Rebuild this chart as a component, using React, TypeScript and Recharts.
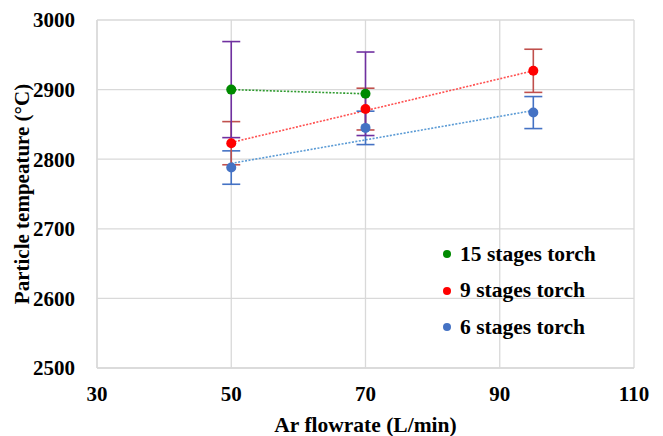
import {
  ComposedChart,
  Scatter,
  Line,
  XAxis,
  YAxis,
  CartesianGrid,
  ErrorBar,
} from "recharts";

// Ar flowrate (L/min) vs particle temperature (°C)
const torch15 = [
  { x: 50, y: 2900, err: 69 },
  { x: 70, y: 2894, err: 60 },
];
const torch9 = [
  { x: 50, y: 2823, err: 31 },
  { x: 70, y: 2872, err: 30 },
  { x: 95, y: 2927, err: 31 },
];
const torch6 = [
  { x: 50, y: 2788, err: 24 },
  { x: 70, y: 2845, err: 24 },
  { x: 95, y: 2867, err: 23 },
];

// linear trendlines, end points
const trend15 = [
  { x: 50, y: 2900 },
  { x: 70, y: 2894 },
];
const trend9 = [
  { x: 50, y: 2824 },
  { x: 95, y: 2927 },
];
const trend6 = [
  { x: 50, y: 2794 },
  { x: 95, y: 2870 },
];

const xTicks = [30, 50, 70, 90, 110];
const yTicks = [2500, 2600, 2700, 2800, 2900, 3000];

const legendItems = [
  { name: "15 stages torch", color: "#008a00" },
  { name: "9 stages torch", color: "#ff0000" },
  { name: "6 stages torch", color: "#4472c4" },
];

const FONT = "'Times New Roman', 'Liberation Serif', serif";

const Dot = (color: string) => (props: any) => {
  const { cx, cy } = props;
  if (cx == null || cy == null) return <g />;
  return <circle cx={cx} cy={cy} r={5} fill={color} />;
};

const App = () => {
  return (
    <div style={{ position: "absolute", left: 0, top: 0, background: "#fff" }}>
      <ComposedChart
        width={663}
        height={436}
        margin={{ top: 20, right: 29, left: 0, bottom: 0 }}
      >
        <CartesianGrid stroke="#d9d9d9" strokeWidth={1.3} />
        <XAxis
          type="number"
          dataKey="x"
          domain={[30, 110]}
          ticks={xTicks}
          allowDataOverflow
          axisLine={{ stroke: "#d9d9d9", strokeWidth: 1.3 }}
          tickLine={false}
          height={68}
          tick={{ fill: "#000", fontSize: 21, fontWeight: "bold", fontFamily: FONT }}
          tickMargin={12}
          label={{
            value: "Ar flowrate (L/min)",
            position: "insideBottom",
            offset: 4,
            fill: "#000",
            fontSize: 21.5,
            fontWeight: "bold",
            fontFamily: FONT,
          }}
        />
        <YAxis
          type="number"
          domain={[2500, 3000]}
          ticks={yTicks}
          allowDataOverflow
          axisLine={{ stroke: "#d9d9d9", strokeWidth: 1.3 }}
          tickLine={false}
          width={97}
          tick={{ fill: "#000", fontSize: 21, fontWeight: "bold", fontFamily: FONT }}
          tickMargin={16}
          label={{
            value: "Particle tempeature (°C)",
            angle: -90,
            position: "insideLeft",
            offset: 22,
            style: { textAnchor: "middle" },
            fill: "#000",
            fontSize: 21,
            fontWeight: "bold",
            fontFamily: FONT,
          }}
        />

        <Line
          data={trend6}
          dataKey="y"
          stroke="#5b9bd5"
          strokeWidth={1.6}
          strokeDasharray="2 1.5"
          dot={false}
          activeDot={false}
          isAnimationActive={false}
        />
        <Line
          data={trend9}
          dataKey="y"
          stroke="#ff5050"
          strokeWidth={1.6}
          strokeDasharray="2 1.5"
          dot={false}
          activeDot={false}
          isAnimationActive={false}
        />
        <Line
          data={trend15}
          dataKey="y"
          stroke="#2e9a2e"
          strokeWidth={1.6}
          strokeDasharray="2 1.5"
          dot={false}
          activeDot={false}
          isAnimationActive={false}
        />

        <Scatter data={torch6} dataKey="y" shape={Dot("#4472c4")} isAnimationActive={false}>
          <ErrorBar dataKey="err" direction="y" stroke="#4472c4" strokeWidth={1.6} width={9} />
        </Scatter>
        <Scatter data={torch9} dataKey="y" shape={Dot("#ff0000")} isAnimationActive={false}>
          <ErrorBar dataKey="err" direction="y" stroke="#c0504d" strokeWidth={1.6} width={9} />
        </Scatter>
        <Scatter data={torch15} dataKey="y" shape={Dot("#008a00")} isAnimationActive={false}>
          <ErrorBar dataKey="err" direction="y" stroke="#7030a0" strokeWidth={1.6} width={9} />
        </Scatter>
      </ComposedChart>

      <div
        style={{
          position: "absolute",
          left: 443,
          top: 236,
          fontFamily: FONT,
          fontWeight: "bold",
          fontSize: 21.5,
          color: "#000",
        }}
      >
        {legendItems.map((it) => (
          <div
            key={it.name}
            style={{ display: "flex", alignItems: "center", height: 36.5 }}
          >
            <div
              style={{
                width: 8,
                height: 8,
                borderRadius: "50%",
                background: it.color,
                marginRight: 9,
              }}
            />
            {it.name}
          </div>
        ))}
      </div>
    </div>
  );
};

export default App;
